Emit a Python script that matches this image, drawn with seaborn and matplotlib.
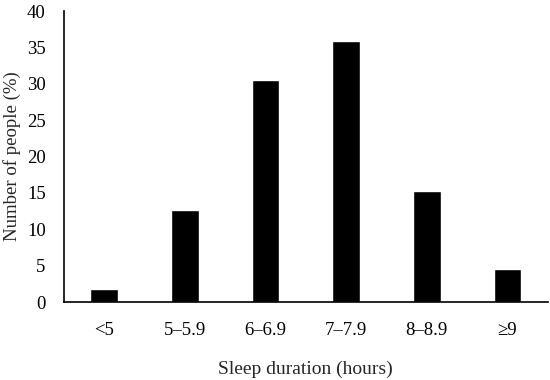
import matplotlib
matplotlib.use("Agg")
import matplotlib.pyplot as plt
import seaborn as sns
import pandas as pd

categories = ["<5", "5–5.9", "6–6.9", "7–7.9", "8–8.9", "≥9"]
values = [1.8, 12.6, 30.5, 35.9, 15.3, 4.5]
yticks = [0, 5, 10, 15, 20, 25, 30, 35, 40]

sns.set_style("white")
plt.rcParams['font.family'] = ['Liberation Serif', 'DejaVu Serif']

df = pd.DataFrame({"cat": categories, "val": values})
fig = plt.figure(figsize=(5.5, 3.8), dpi=100)
ax = fig.add_axes([0.116, 0.205, 0.88, 0.766])
sns.barplot(data=df, x="cat", y="val", color="black", width=0.34, ax=ax, saturation=1)
ax.set_xlim(-0.5, 5.5)
ax.set_ylim(0, 40)
ax.set_yticks(yticks)
ax.tick_params(axis='both', length=0, labelsize=13.5, colors='black')
ax.tick_params(axis='x', pad=14)
ax.tick_params(axis='y', pad=13)
for s in ["top", "right"]:
    ax.spines[s].set_visible(False)
for s in ["left", "bottom"]:
    ax.spines[s].set_color("black")
    ax.spines[s].set_linewidth(1.2)
ax.set_xlabel("Sleep duration (hours)", fontsize=14, labelpad=16)
ax.set_ylabel("Number of people (%)", fontsize=13.5, labelpad=4)
fig.savefig("out.png", dpi=100)
